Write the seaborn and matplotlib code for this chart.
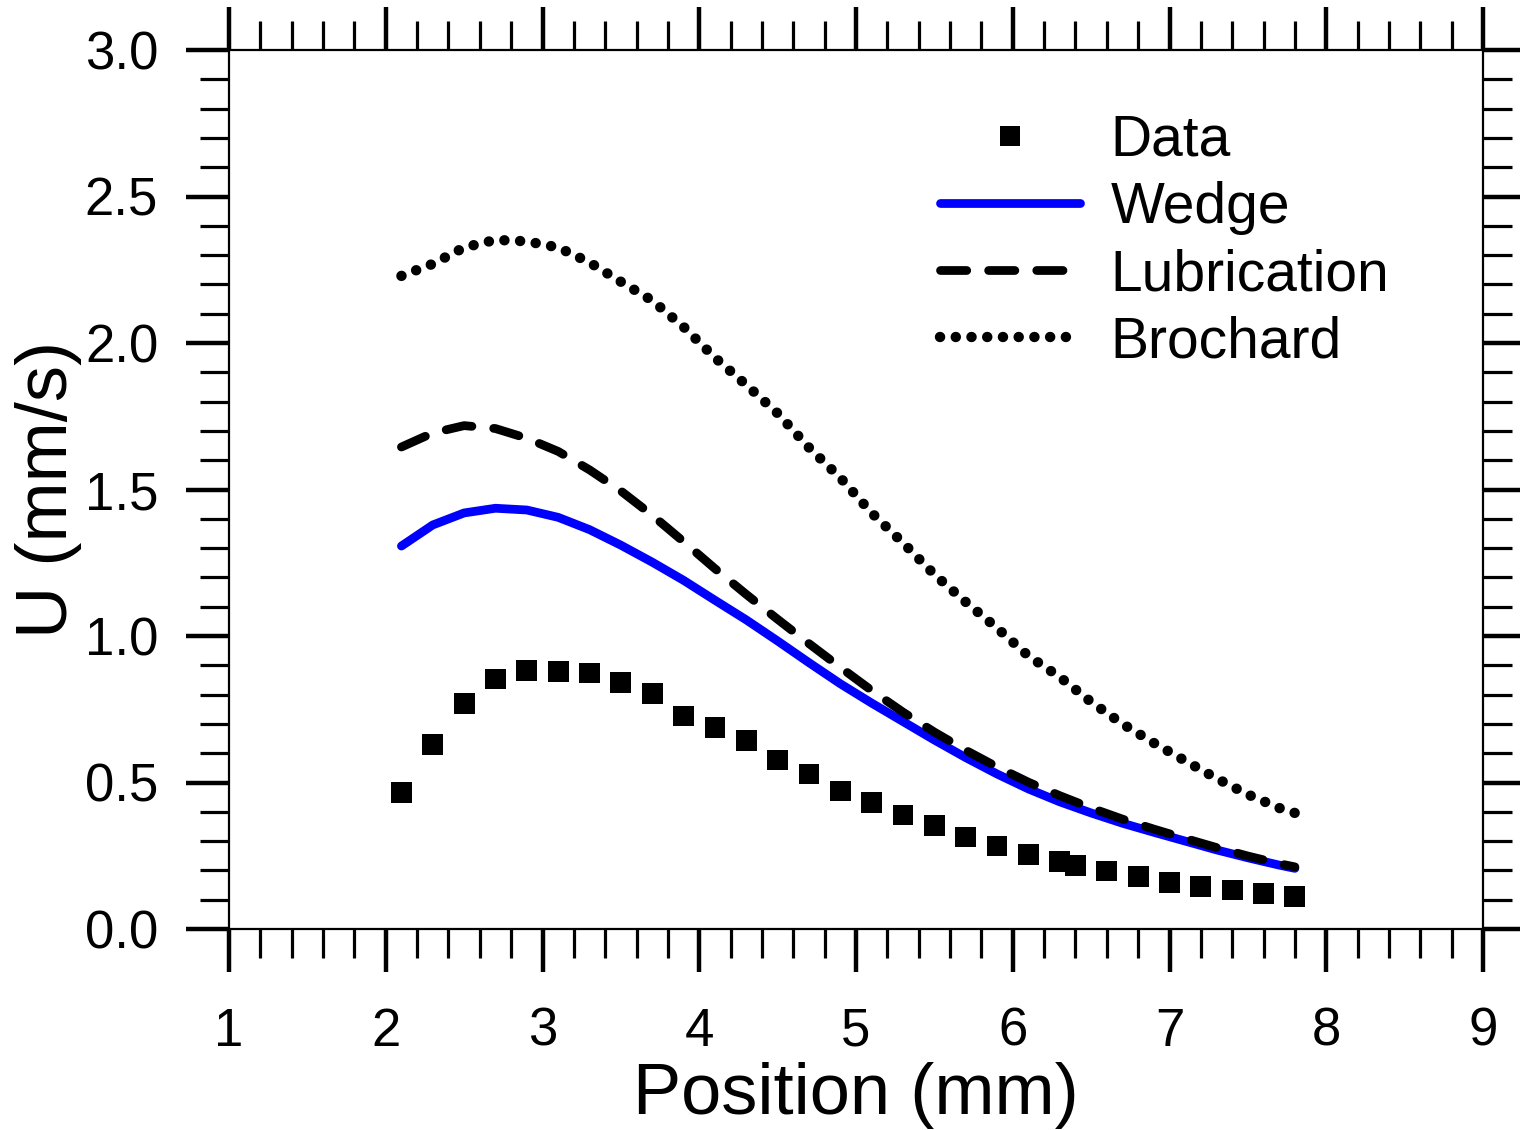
import seaborn as sns
import numpy as np
import matplotlib
matplotlib.use('Agg')
import matplotlib.pyplot as plt
import pandas as pd
from matplotlib.ticker import MultipleLocator
from matplotlib.lines import Line2D

# measured data
data_x = [2.1, 2.3, 2.5, 2.7, 2.9, 3.1, 3.3, 3.5, 3.7, 3.9, 4.1, 4.3, 4.5, 4.7, 4.9,
          5.1, 5.3, 5.5, 5.7, 5.9, 6.1, 6.3, 6.4, 6.6, 6.8, 7.0, 7.2, 7.4, 7.6, 7.8]
data_u = [0.465, 0.631, 0.771, 0.853, 0.881, 0.878, 0.874, 0.840, 0.805, 0.727, 0.689,
          0.642, 0.577, 0.529, 0.471, 0.433, 0.389, 0.352, 0.314, 0.283, 0.253, 0.230,
          0.216, 0.198, 0.179, 0.160, 0.144, 0.133, 0.122, 0.110]

# model curves
model_x = [2.1, 2.3, 2.5, 2.7, 2.9, 3.1, 3.3, 3.5, 3.7, 3.9, 4.1, 4.3, 4.5, 4.7, 4.9,
           5.1, 5.3, 5.5, 5.7, 5.9, 6.1, 6.3, 6.5, 6.7, 6.9, 7.1, 7.3, 7.5, 7.7, 7.8]
wedge = [1.307, 1.379, 1.420, 1.436, 1.430, 1.405, 1.363, 1.310, 1.252, 1.190, 1.122,
         1.055, 0.983, 0.909, 0.837, 0.771, 0.708, 0.645, 0.585, 0.529, 0.478, 0.434,
         0.396, 0.361, 0.330, 0.300, 0.270, 0.243, 0.218, 0.207]
lubrication = [1.645, 1.693, 1.718, 1.708, 1.675, 1.630, 1.567, 1.495, 1.412, 1.322, 1.230,
               1.142, 1.057, 0.974, 0.893, 0.814, 0.740, 0.672, 0.610, 0.553, 0.501, 0.455,
               0.413, 0.375, 0.341, 0.309, 0.278, 0.249, 0.223, 0.212]
brochard = [2.229, 2.270, 2.326, 2.352, 2.347, 2.326, 2.275, 2.209, 2.145, 2.055, 1.950,
            1.857, 1.760, 1.643, 1.540, 1.420, 1.318, 1.210, 1.116, 1.027, 0.932, 0.860,
            0.775, 0.700, 0.635, 0.574, 0.514, 0.459, 0.413, 0.396]

df_data = pd.DataFrame({'x': data_x, 'U': data_u})
df_mod = pd.DataFrame({'x': model_x, 'Wedge': wedge, 'Lubrication': lubrication,
                       'Brochard': brochard})

sns.set_style('white')
plt.rcParams['font.family'] = ['Liberation Sans', 'DejaVu Sans']
plt.rcParams['text.color'] = 'black'
plt.rcParams['axes.labelcolor'] = 'black'
plt.rcParams['xtick.color'] = 'black'
plt.rcParams['ytick.color'] = 'black'

dash_style = (0, (3.0, 2.5))
dot_style = (0, (0.01, 1.5))

fig = plt.figure(figsize=(15.2, 11.3), dpi=100)
ax = fig.add_axes([229/1520, 1 - 929/1130, 1254/1520, 879/1130])

sns.scatterplot(x='x', y='U', data=df_data, ax=ax, marker='s', s=15**2,
                color='black', edgecolor='none', zorder=5, legend=False)
sns.lineplot(x='x', y='Wedge', data=df_mod, ax=ax, color='#0000ff', lw=6.3,
             solid_capstyle='round', solid_joinstyle='round', zorder=3)
sns.lineplot(x='x', y='Lubrication', data=df_mod, ax=ax, color='black', lw=6.3,
             linestyle=dash_style, dash_capstyle='round', zorder=4)
sns.lineplot(x='x', y='Brochard', data=df_mod, ax=ax, color='black', lw=7.5,
             linestyle=dot_style, dash_capstyle='round', zorder=4)

ax.set_xlim(1, 9)
ax.set_ylim(0, 3.0)
ax.xaxis.set_major_locator(MultipleLocator(1))
ax.xaxis.set_minor_locator(MultipleLocator(0.2))
ax.yaxis.set_major_locator(MultipleLocator(0.5))
ax.yaxis.set_minor_locator(MultipleLocator(0.1))
ax.yaxis.set_major_formatter(matplotlib.ticker.FormatStrFormatter('%.1f'))

for s in ax.spines.values():
    s.set_visible(True)
    s.set_linewidth(1.6)
    s.set_color('black')

ax.tick_params(which='both', direction='out', top=True, right=True, bottom=True, left=True,
               colors='black')
ax.tick_params(which='major', length=31, width=3.2, labelsize=38, pad=20)
ax.tick_params(axis='x', which='major', pad=25)
ax.tick_params(which='minor', length=21, width=2.3)

ax.set_xlabel('Position (mm)', fontsize=52)
ax.set_ylabel('U (mm/s)', fontsize=52)
ax.xaxis.set_label_coords(0.5, -0.151)
ax.yaxis.set_label_coords(-0.117, 0.5)

handles = [
    Line2D([], [], marker='s', color='black', linestyle='none', markersize=15, markeredgewidth=0),
    Line2D([], [], color='#0000ff', lw=6.3, solid_capstyle='round'),
    Line2D([], [], color='black', lw=6.3, linestyle=dash_style, dash_capstyle='round'),
    Line2D([], [], color='black', lw=7.5, linestyle=dot_style, dash_capstyle='round'),
]
fig.legend(handles, ['Data', 'Wedge', 'Lubrication', 'Brochard'],
           loc='upper left', bbox_to_anchor=(940/1520, 1 - 114/1130), frameon=False,
           fontsize=41, handlelength=2.45, handletextpad=0.55, labelspacing=0.23,
           borderpad=0, borderaxespad=0)

fig.savefig('out.png', dpi=100)
